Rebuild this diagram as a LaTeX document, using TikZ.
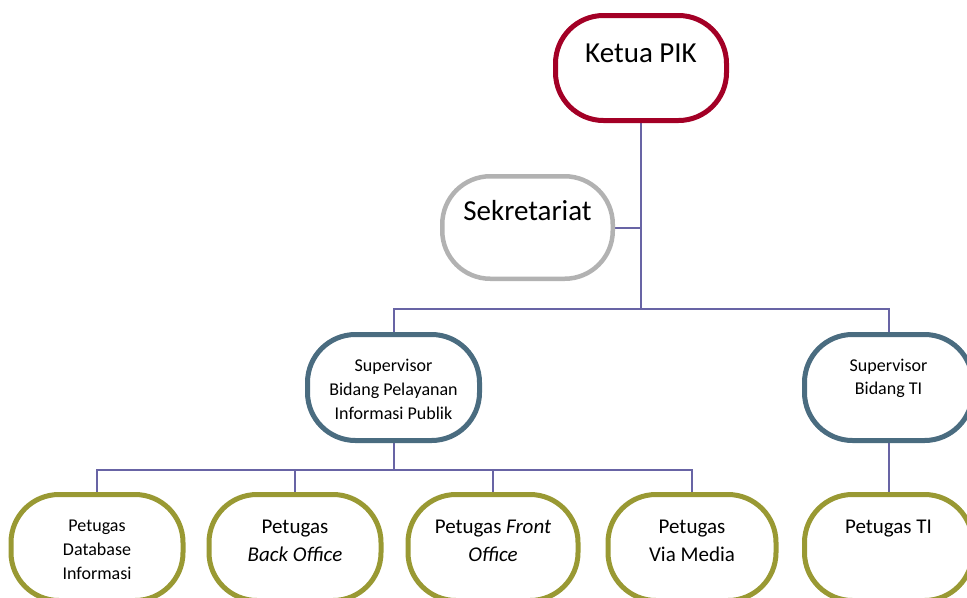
\documentclass[tikz,border=0pt]{standalone}
\usepackage{fontspec}
\setmainfont{Carlito}
\usetikzlibrary{backgrounds}
\newlength\pxu
\setlength\pxu{0.75pt}
\definecolor{cRed}{RGB}{163,0,38}
\definecolor{cGray}{RGB}{178,178,178}
\definecolor{cBlue}{RGB}{74,108,128}
\definecolor{cOlive}{RGB}{153,153,51}
\definecolor{cLine}{RGB}{104,100,165}
% #1 width(px) #2 height(px) #3 top gap(px) #4 font #5 text
\newcommand\bxtext[5]{\parbox[c][#2\pxu][t]{#1\pxu}{\vspace*{#3\pxu}\centering#4\rule{0pt}{0.75em}#5\par}}
\newcommand\fBig{\fontsize{21.75}{26}\selectfont}
\newcommand\fSmall{\fontsize{13.5}{18}\selectfont}
\newcommand\fMid{\fontsize{15.75}{21}\selectfont}
\tikzset{
  orgbox/.style={rectangle, rounded corners=48*\pxu, fill=white, inner sep=0pt, outer sep=0pt, line width=5*\pxu},
  conn/.style={draw=cLine, line width=2*\pxu},
}
\begin{document}
\begin{tikzpicture}[x=0.75pt,y=-0.75pt]
\useasboundingbox (0,0) rectangle (967,597);
% nodes
\node[orgbox, draw=cRed] (ketua) at (641,68) {\bxtext{171}{105}{24.75}{\fBig}{Ketua PIK}};
\node[orgbox, draw=cGray, line width=4.5*\pxu] (sek) at (527.5,227.5) {\bxtext{170.5}{102.5}{22}{\fBig}{Sekretariat}};
\node[orgbox, draw=cBlue] (sup1) at (393.5,387.5) {\bxtext{172}{106}{23.5}{\fSmall}{Supervisor\\Bidang Pelayanan\\Informasi Publik}};
\node[orgbox, draw=cBlue] (sup2) at (888.5,387.5) {\bxtext{168}{106}{23}{\fontsize{13.5}{17.6}\selectfont}{Supervisor\\Bidang TI}};
\node[orgbox, draw=cOlive] (p1) at (97,547.5) {\bxtext{172}{106}{23}{\fSmall}{Petugas\\Database\\Informasi}};
\node[orgbox, draw=cOlive] (p2) at (295,547.5) {\bxtext{172}{106}{22.75}{\fMid}{Petugas\\\textit{Back Office}}};
\node[orgbox, draw=cOlive] (p3) at (493,547.5) {\bxtext{170}{106}{22.75}{\fMid}{Petugas \textit{Front}\\\textit{Office}}};
\node[orgbox, draw=cOlive] (p4) at (692,547.5) {\bxtext{168}{106}{22.75}{\fMid}{Petugas\\Via Media}};
\node[orgbox, draw=cOlive] (p5) at (888.5,547.5) {\bxtext{168}{106}{22.75}{\fMid}{Petugas TI}};
% connectors
\coordinate (hub) at (641,309);
\coordinate (hubB) at (393.5,470);
\begin{scope}[on background layer]
\draw[conn] (ketua.south) -- (hub);
\draw[conn] (sek.east) -- (sek.east -| hub);
\draw[conn] (sup1.north) |- (hub) -| (sup2.north);
\draw[conn] (sup1.south) -- (hubB);
\draw[conn] (p1.north) |- (hubB) -| (p4.north);
\draw[conn] (p2.north) |- (hubB);
\draw[conn] (p3.north) |- (hubB);
\draw[conn] (sup2.south) -- (p5.north);
\end{scope}
\end{tikzpicture}
\end{document}
